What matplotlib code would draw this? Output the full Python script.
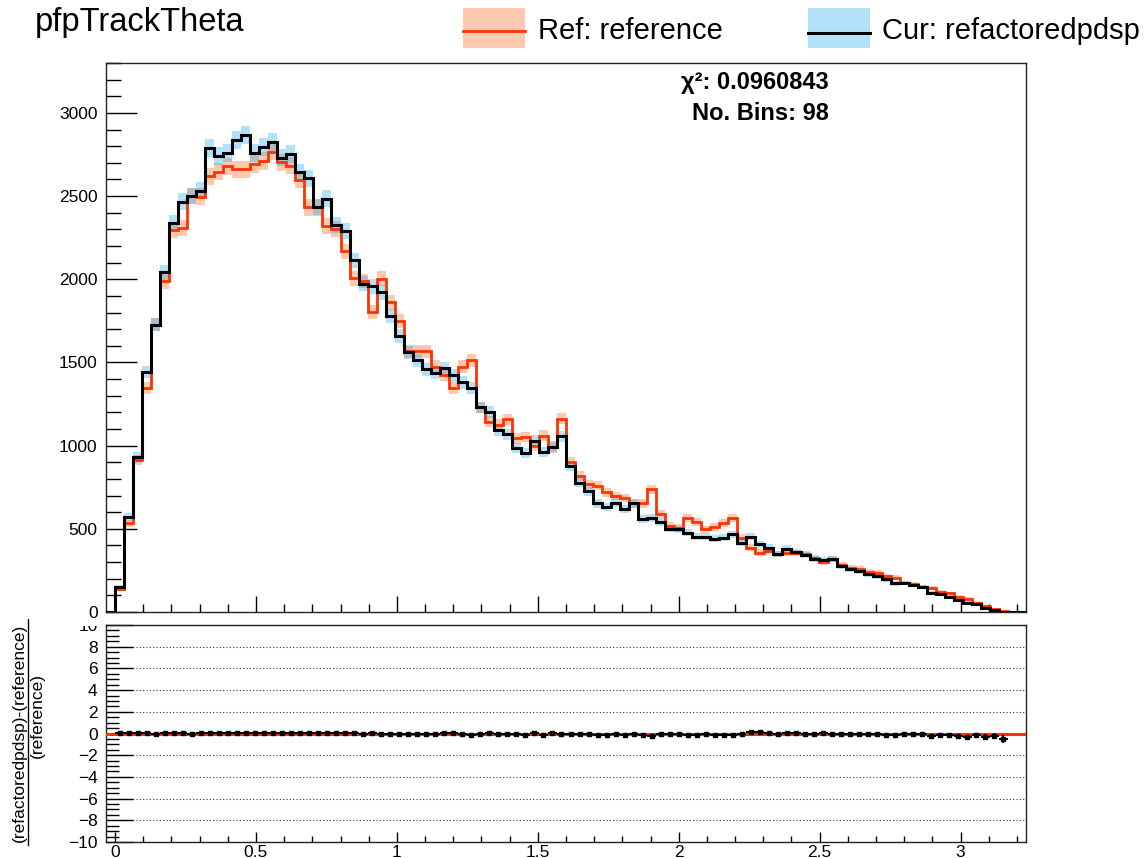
import numpy as np
import matplotlib
matplotlib.use("Agg")
import matplotlib.pyplot as plt
from matplotlib.transforms import Bbox, TransformedBbox
from matplotlib.patches import Rectangle
from matplotlib.lines import Line2D
from matplotlib.ticker import MultipleLocator

plt.rcParams['font.family'] = ['Liberation Sans', 'DejaVu Sans']

# ---- labels -------------------------------------------------------------
title = "pfpTrackTheta"
ref_label = "Ref: reference"
cur_label = "Cur: refactoredpdsp"
chi2_value = "0.0960843"
n_bins_value = "98"
ratio_num = "(refactoredpdsp)-(reference)"
ratio_den = "(reference)"

# ---- binning ------------------------------------------------------------
bin_width = 0.032
x_range = (-0.032, 3.232)

# ---- bin contents, first bin starts at 0 --------------------------------
ref_counts = [
    140, 532, 912, 1346, 1728, 1989, 2298, 2311, 2500, 2496,
    2618, 2646, 2678, 2661, 2661, 2693, 2710, 2768, 2704, 2682,
    2597, 2432, 2432, 2318, 2300, 2167, 2006, 1990, 1803, 2003,
    1861, 1749, 1567, 1567, 1567, 1474, 1427, 1346, 1474, 1513,
    1230, 1144, 1127, 1159, 1045, 1052, 1000, 1060, 990, 1162,
    904, 818, 768, 760, 721, 697, 685, 653, 653, 737,
    587, 519, 505, 565, 541, 497, 511, 533, 567, 447,
    387, 357, 367, 347, 357, 353, 347, 327, 301, 321,
    281, 267, 261, 241, 236, 216, 206, 176, 166, 152,
    146, 120, 112, 92, 80, 56, 36, 16, 6,
]
cur_counts = [
    150, 573, 929, 1442, 1728, 2041, 2337, 2466, 2500, 2532,
    2790, 2740, 2758, 2839, 2869, 2758, 2794, 2826, 2731, 2753,
    2644, 2607, 2436, 2485, 2324, 2290, 2114, 1974, 1957, 1921,
    1781, 1659, 1560, 1513, 1459, 1438, 1466, 1423, 1380, 1346,
    1230, 1202, 1094, 1067, 987, 955, 1030, 962, 994, 1055,
    875, 778, 727, 653, 633, 657, 617, 653, 561, 567,
    541, 501, 497, 477, 453, 453, 441, 447, 467, 417,
    453, 407, 387, 347, 381, 362, 341, 321, 313, 321,
    277, 257, 246, 226, 216, 196, 172, 176, 160, 152,
    116, 106, 92, 72, 56, 46, 26, 12, 3,
]

# ---- colours ------------------------------------------------------------
ref_line_color = "#ff3300"
ref_band_color = (1.0, 0.42, 0.15, 0.36)
cur_line_color = "#000000"
cur_band_color = (0.05, 0.65, 0.95, 0.32)

W, H = 1144, 858
fig = plt.figure(figsize=(W / 100, H / 100), dpi=100)


def fx(px):
    return px / W


def fy(py):
    return 1 - py / H


ax = fig.add_axes([fx(106), fy(612), fx(1026) - fx(106), fy(63) - fy(612)])
rax = fig.add_axes([fx(106), fy(842), fx(1026) - fx(106), fy(625) - fy(842)])

ref = np.asarray(ref_counts, dtype=float)
cur = np.asarray(cur_counts, dtype=float)
edges = np.arange(len(ref) + 1) * bin_width
centers = 0.5 * (edges[:-1] + edges[1:])
ref_err = np.sqrt(ref)
cur_err = np.sqrt(cur)

# ---- main panel ---------------------------------------------------------
ax.stairs(ref + ref_err, edges, baseline=ref - ref_err, fill=True,
          color=ref_band_color, lw=0, zorder=1)
ax.stairs(cur + cur_err, edges, baseline=cur - cur_err, fill=True,
          color=cur_band_color, lw=0, zorder=2)

full_edges = np.concatenate([[x_range[0]], edges, [x_range[1]]])
ax.stairs(np.concatenate([[0], ref, [0]]), full_edges, baseline=None,
          color=ref_line_color, lw=2.0, zorder=3)
ax.stairs(np.concatenate([[0], cur, [0]]), full_edges, baseline=None,
          color=cur_line_color, lw=2.2, zorder=4)

ax.set_xlim(*x_range)
ax.set_ylim(0, 3300)
ax.xaxis.set_major_locator(MultipleLocator(0.5))
ax.xaxis.set_minor_locator(MultipleLocator(0.1))
ax.yaxis.set_major_locator(MultipleLocator(500))
ax.yaxis.set_minor_locator(MultipleLocator(100))
ax.tick_params(axis='x', which='major', direction='in', length=11.5, width=1,
               labelbottom=False, top=False)
ax.tick_params(axis='x', which='minor', direction='in', length=5.5, width=1,
               top=False)
ax.tick_params(axis='y', which='major', direction='in', length=22, width=1,
               labelsize=12.5, pad=6, right=False)
ax.tick_params(axis='y', which='minor', direction='in', length=11, width=1,
               right=False)
for s in ax.spines.values():
    s.set_linewidth(1.0)
    s.set_color("#222222")

# ---- ratio panel --------------------------------------------------------
mask = (ref > 0) & (cur > 0)
ratio = (cur[mask] - ref[mask]) / ref[mask]
ratio_err = (cur[mask] / ref[mask]) * np.sqrt(1.0 / cur[mask] + 1.0 / ref[mask])

rax.set_xlim(*x_range)
rax.set_ylim(-10, 10)
rax.yaxis.set_major_locator(MultipleLocator(2))
rax.yaxis.set_minor_locator(MultipleLocator(0.5))
rax.xaxis.set_major_locator(MultipleLocator(0.5))
rax.xaxis.set_minor_locator(MultipleLocator(0.1))
rax.yaxis.grid(True, which='major', linestyle=(0, (1, 2)), color='#333333',
               lw=0.8)
rax.set_axisbelow(True)
rax.axhline(0, color=ref_line_color, lw=2.2, zorder=3)
rax.errorbar(centers[mask], ratio, xerr=bin_width / 2, yerr=ratio_err,
             fmt='s', ms=2.5, color='black', ecolor='black', elinewidth=1.5,
             capsize=0, zorder=4)
rax.tick_params(axis='y', which='major', direction='in', length=19.5, width=1,
                labelsize=12.5, pad=6, right=False)
rax.tick_params(axis='y', which='minor', direction='in', length=9, width=1,
                right=False)
rax.tick_params(axis='x', which='major', direction='in', length=7, width=1,
                labelsize=12.5, pad=2, top=False)
rax.tick_params(axis='x', which='minor', direction='in', length=4, width=1,
                top=False)
rax.xaxis.set_major_formatter(plt.FuncFormatter(lambda v, p: f"{v:g}"))
for s in rax.spines.values():
    s.set_linewidth(1.0)
    s.set_color("#222222")

# the upper pad covers whatever of the lower pad lies above it
fig.canvas.draw()
tick_clip = TransformedBbox(Bbox([[0, 0], [1, fy(626)]]), fig.transFigure)
for lab in rax.get_yticklabels():
    lab.set_clip_box(tick_clip)
    lab.set_clip_on(True)

label_clip = TransformedBbox(Bbox([[0, 0], [1, fy(619)]]), fig.transFigure)
t1 = fig.text(fx(19), fy(733), ratio_num, rotation=90, ha='center',
              va='center', fontsize=12.5)
t2 = fig.text(fx(37), fy(716), ratio_den, rotation=90, ha='center',
              va='center', fontsize=12.5)
frac = Line2D([fx(28), fx(28)], [fy(612), fy(845)], transform=fig.transFigure,
              color='black', lw=1.0)
fig.add_artist(frac)
for a in (t1, t2, frac):
    a.set_clip_box(label_clip)
    a.set_clip_on(True)

# ---- title, legend and fit text ------------------------------------------
fig.text(fx(35), fy(23), title, fontsize=23.5, ha='left', va='center')

fig.add_artist(Rectangle((fx(463), fy(48)), fx(525) - fx(463), fy(8) - fy(48),
                         transform=fig.transFigure, facecolor=ref_band_color,
                         edgecolor='none'))
fig.add_artist(Line2D([fx(463), fx(525)], [fy(31), fy(31)],
                      transform=fig.transFigure, color=ref_line_color, lw=2.0))
fig.text(fx(538), fy(31), ref_label, fontsize=21, ha='left', va='center')

fig.add_artist(Rectangle((fx(808), fy(48)), fx(870) - fx(808), fy(8) - fy(48),
                         transform=fig.transFigure, facecolor=cur_band_color,
                         edgecolor='none'))
fig.add_artist(Line2D([fx(808), fx(870)], [fy(33), fy(33)],
                      transform=fig.transFigure, color=cur_line_color, lw=2.2))
fig.text(fx(882), fy(31), cur_label, fontsize=21, ha='left', va='center')

fig.text(fx(829), fy(82), "\u03c7\u00b2: " + chi2_value, fontsize=17,
         fontweight='bold', ha='right', va='center')
fig.text(fx(829), fy(113), "No. Bins: " + n_bins_value, fontsize=17,
         fontweight='bold', ha='right', va='center')

fig.savefig("out.png", dpi=100)
